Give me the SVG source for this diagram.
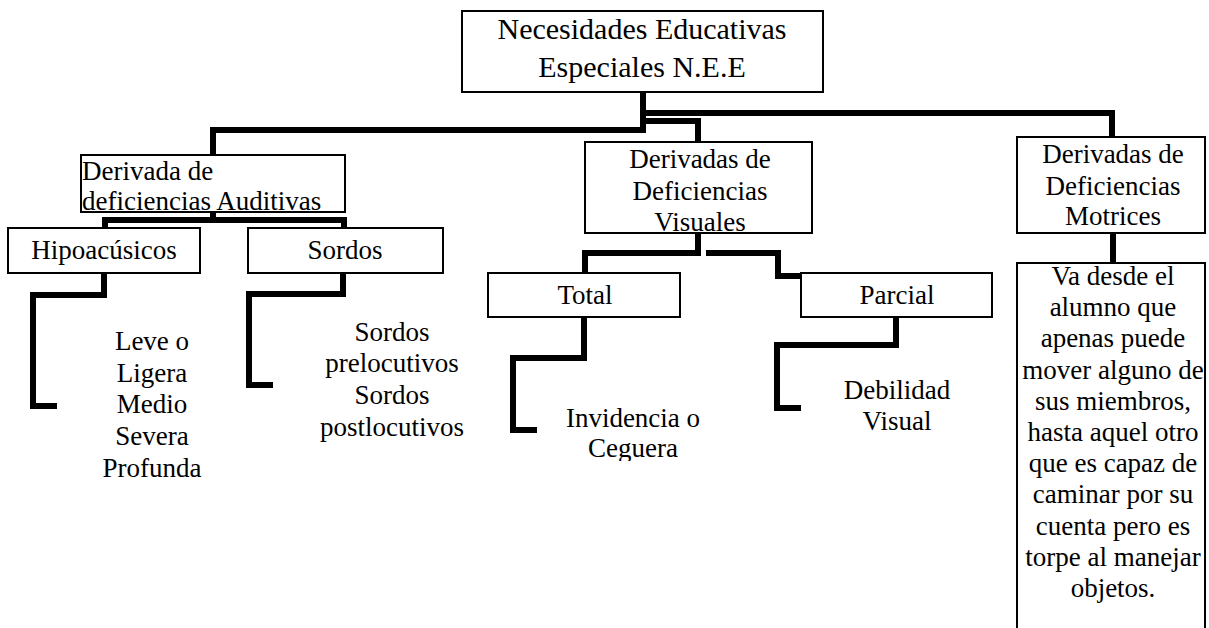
<svg xmlns="http://www.w3.org/2000/svg" width="1209" height="628" viewBox="0 0 1209 628">
<style>
.box{fill:#fff;stroke:#000;stroke-width:2}
.t{font-family:"Liberation Serif","Times New Roman",serif;font-size:27px;fill:#000;text-anchor:middle}
.l{text-anchor:start}
.title{font-size:30px}
.conn{fill:none;stroke:#000;stroke-width:6;stroke-linejoin:miter;stroke-linecap:butt}
</style>
<defs>
<clipPath id="clipCeg"><rect x="500" y="380" width="300" height="81"/></clipPath>
</defs>
<g id="connectors">
<path class="conn" d="M643,92 V130 H213 V155"/>
<path class="conn" d="M643,113 H1112 V137"/>
<path class="conn" d="M646,121 H698 V142"/>
<path class="conn" d="M213,212 V220 M105,228 V220 H344 V228"/>
<path class="conn" d="M104,273 V295 H33 V406 H57"/>
<path class="conn" d="M343,273 V294 H249 V385 H273"/>
<path class="conn" d="M698,233 V253 H585 V273"/>
<path class="conn" d="M706,253 H778 V276 H801"/>
<path class="conn" d="M584,317 V358 H513 V430 H537"/>
<path class="conn" d="M896,317 V345 H777 V408 H801"/>
<path class="conn" d="M1113,233 V263"/>
</g>
<g id="root">
<rect class="box" x="462" y="11" width="361" height="81"/>
<text class="t title" x="642" y="39">Necesidades Educativas</text>
<text class="t title" x="642" y="77">Especiales N.E.E</text>
</g>
<g id="auditivas">
<rect class="box" x="81" y="155" width="264" height="57"/>
<text class="t l" x="82" y="180">Derivada de</text>
<text class="t l" x="82" y="210">deficiencias Auditivas</text>
</g>
<g id="hipoacusicos">
<rect class="box" x="8" y="228" width="192" height="45"/>
<text class="t" x="104" y="259">Hipoacúsicos</text>
</g>
<g id="sordos">
<rect class="box" x="248" y="228" width="195" height="45"/>
<text class="t" x="345" y="259">Sordos</text>
</g>
<g id="hipo-grados">
<text class="t" x="152" y="350">Leve o</text>
<text class="t" x="152" y="382">Ligera</text>
<text class="t" x="152" y="413">Medio</text>
<text class="t" x="152" y="445">Severa</text>
<text class="t" x="152" y="477">Profunda</text>
</g>
<g id="sordos-tipos">
<text class="t" x="392" y="341">Sordos</text>
<text class="t" x="392" y="372">prelocutivos</text>
<text class="t" x="392" y="404">Sordos</text>
<text class="t" x="392" y="436">postlocutivos</text>
</g>
<g id="visuales">
<rect class="box" x="585" y="142" width="227" height="91"/>
<text class="t" x="700" y="168">Derivadas de</text>
<text class="t" x="700" y="200">Deficiencias</text>
<text class="t" x="700" y="231">Visuales</text>
</g>
<g id="total">
<rect class="box" x="488" y="273" width="192" height="44"/>
<text class="t" x="585" y="304">Total</text>
</g>
<g id="parcial">
<rect class="box" x="801" y="273" width="191" height="44"/>
<text class="t" x="897" y="304">Parcial</text>
</g>
<g id="ceguera" clip-path="url(#clipCeg)">
<text class="t" x="633" y="427">Invidencia o</text>
<text class="t" x="633" y="457">Ceguera</text>
</g>
<g id="debilidad">
<text class="t" x="897" y="399">Debilidad</text>
<text class="t" x="897" y="430">Visual</text>
</g>
<g id="motrices">
<rect class="box" x="1017" y="137" width="188" height="96"/>
<text class="t" x="1113" y="163">Derivadas de</text>
<text class="t" x="1113" y="195">Deficiencias</text>
<text class="t" x="1113" y="225">Motrices</text>
</g>
<g id="motrices-desc">
<rect class="box" x="1017" y="263" width="188" height="380"/>
<text class="t" x="1113" y="285">Va desde el</text>
<text class="t" x="1113" y="316">alumno que</text>
<text class="t" x="1113" y="347">apenas puede</text>
<text class="t" x="1113" y="379">mover alguno de</text>
<text class="t" x="1113" y="410">sus miembros,</text>
<text class="t" x="1113" y="441">hasta aquel otro</text>
<text class="t" x="1113" y="472">que es capaz de</text>
<text class="t" x="1113" y="503">caminar por su</text>
<text class="t" x="1113" y="535">cuenta pero es</text>
<text class="t" x="1113" y="566">torpe al manejar</text>
<text class="t" x="1113" y="597">objetos.</text>
</g>
</svg>
